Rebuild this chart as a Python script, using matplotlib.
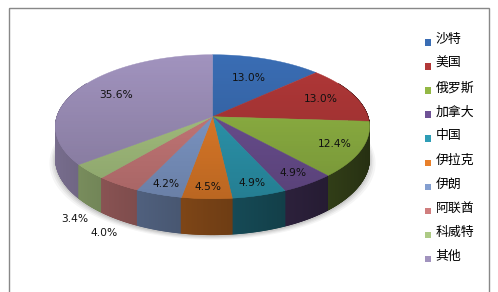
import numpy as np
import matplotlib
matplotlib.use('Agg')
import matplotlib.pyplot as plt
from matplotlib.patches import Polygon, Rectangle
from matplotlib.collections import PolyCollection
from matplotlib.colors import to_rgb

categories = ['沙特', '美国', '俄罗斯', '加拿大', '中国', '伊拉克', '伊朗', '阿联酋', '科威特', '其他']
shares = [13.0, 13.0, 12.4, 4.9, 4.9, 4.5, 4.2, 4.0, 3.4, 35.6]
label_texts = ['13.0%', '13.0%', '12.4%', '4.9%', '4.9%', '4.5%', '4.2%', '4.0%', '3.4%', '35.6%']

colors = ['#3A6DB4', '#B23838', '#93B845', '#6F5296', '#2E9DB6',
          '#E8802A', '#849FD0', '#D07E7E', '#ADCA85', '#A193BE']
# label placement (layout): radius fraction inside the top face, None = outside
label_r = [0.64, 0.77, 0.83, 0.86, 0.86, 0.88, 0.88, None, None, 0.72]

W, H = 498, 292
fig = plt.figure(figsize=(W / 100, H / 100), dpi=100)
ax = fig.add_axes([0, 0, 1, 1])
ax.set_xlim(0, W)
ax.set_ylim(H, 0)
ax.axis('off')

# frame
ax.add_patch(Rectangle((8.5, 7.5), 480, 300, fill=False, edgecolor='#888888', lw=1.0))

CX, CY = 212.5, 116.7
A, B, K, D = 155.5, 70.6, 0.139, 31.0


def proj(theta, r=1.0, z=0.0):
    xs = r * np.sin(theta)
    us = r * np.cos(theta)
    den = 1 + K * us
    return CX + A * xs / den, CY - B * us / den + z / den


total = sum(shares)
bounds = np.concatenate([[0], np.cumsum(shares)]) / total * 2 * np.pi

# soft shadow
tt = np.linspace(0, 2 * np.pi, 400)
bx, by = proj(tt, 1.0, D)
for i, (dy, grow, a) in enumerate([(5, 6, 0.04), (4, 4, 0.05), (3, 2.5, 0.06), (2, 1, 0.08)]):
    sx = CX + (bx - CX) * (1 + grow / A)
    sy = by + dy
    ax.add_patch(Polygon(np.column_stack([sx, sy]), closed=True, facecolor='black',
                         edgecolor='none', alpha=a))

# sides
nseg = 1440
edges = np.linspace(0, 2 * np.pi, nseg + 1)
polys, fcs, keys = [], [], []
for i in range(nseg):
    t0, t1 = edges[i], edges[i + 1]
    tm = 0.5 * (t0 + t1)
    if np.cos(tm) > 0.5:
        continue
    idx = np.searchsorted(bounds, tm) - 1
    idx = min(max(idx, 0), len(shares) - 1)
    f = 0.5 - 0.25 * np.sin(tm)
    c = np.array(to_rgb(colors[idx])) * f
    x0, y0 = proj(t0)
    x1, y1 = proj(t1)
    x2, y2 = proj(t1, 1.0, D)
    x3, y3 = proj(t0, 1.0, D)
    polys.append([(x0, y0), (x1, y1), (x2, y2), (x3, y3)])
    fcs.append(c)
    keys.append(np.cos(tm))
order = np.argsort(keys)[::-1]
pc = PolyCollection([polys[i] for i in order], facecolors=[fcs[i] for i in order],
                    edgecolors=[fcs[i] for i in order], linewidths=0.6)
ax.add_collection(pc)

# top faces
for i in range(len(shares)):
    t = np.linspace(bounds[i], bounds[i + 1], 200)
    xs, ys = proj(t)
    pts = np.vstack([[CX, CY], np.column_stack([xs, ys])])
    ax.add_patch(Polygon(pts, closed=True, facecolor=colors[i], edgecolor=colors[i], lw=0.3))

# top gradient overlay (darker towards the front)
ox, oy = proj(tt)
outline = Polygon(np.column_stack([ox, oy]), closed=True, facecolor='none', edgecolor='none')
ax.add_patch(outline)
grad = np.zeros((H, 2, 4))
yy = np.arange(H)
grad[:, :, 3] = np.clip((yy - 55) / 145.0, 0, 1)[:, None] * 0.2
im = ax.imshow(grad, extent=[0, W, H, 0], aspect='auto', interpolation='bilinear', zorder=3)
im.set_clip_path(outline)

# data labels
for i, txt in enumerate(label_texts):
    tm = 0.5 * (bounds[i] + bounds[i + 1])
    if label_r[i] is not None:
        lx, ly = proj(tm, label_r[i])
        ax.text(lx, ly, txt, ha='center', va='center', fontsize=7.7,
                family='DejaVu Sans', color='#111111', zorder=5)
    else:
        lx, ly = proj(tm, 1.0, D)
        ax.text(lx - 1, ly + 13.5, txt, ha='right', va='center', fontsize=7.7,
                family='DejaVu Sans', color='#111111', zorder=5)

# legend
ly0, dy = 39.5, 24.1
for i, name in enumerate(categories):
    y = ly0 + i * dy
    ax.add_patch(Rectangle((424.5, y - 0.5), 6.5, 6.5, facecolor=colors[i], edgecolor='none'))
    ax.text(435.5, y, name, ha='left', va='center', fontsize=9.3,
            family=['Noto Sans CJK SC', 'DejaVu Sans'], color='#000000')

fig.savefig('out.png', dpi=100)
